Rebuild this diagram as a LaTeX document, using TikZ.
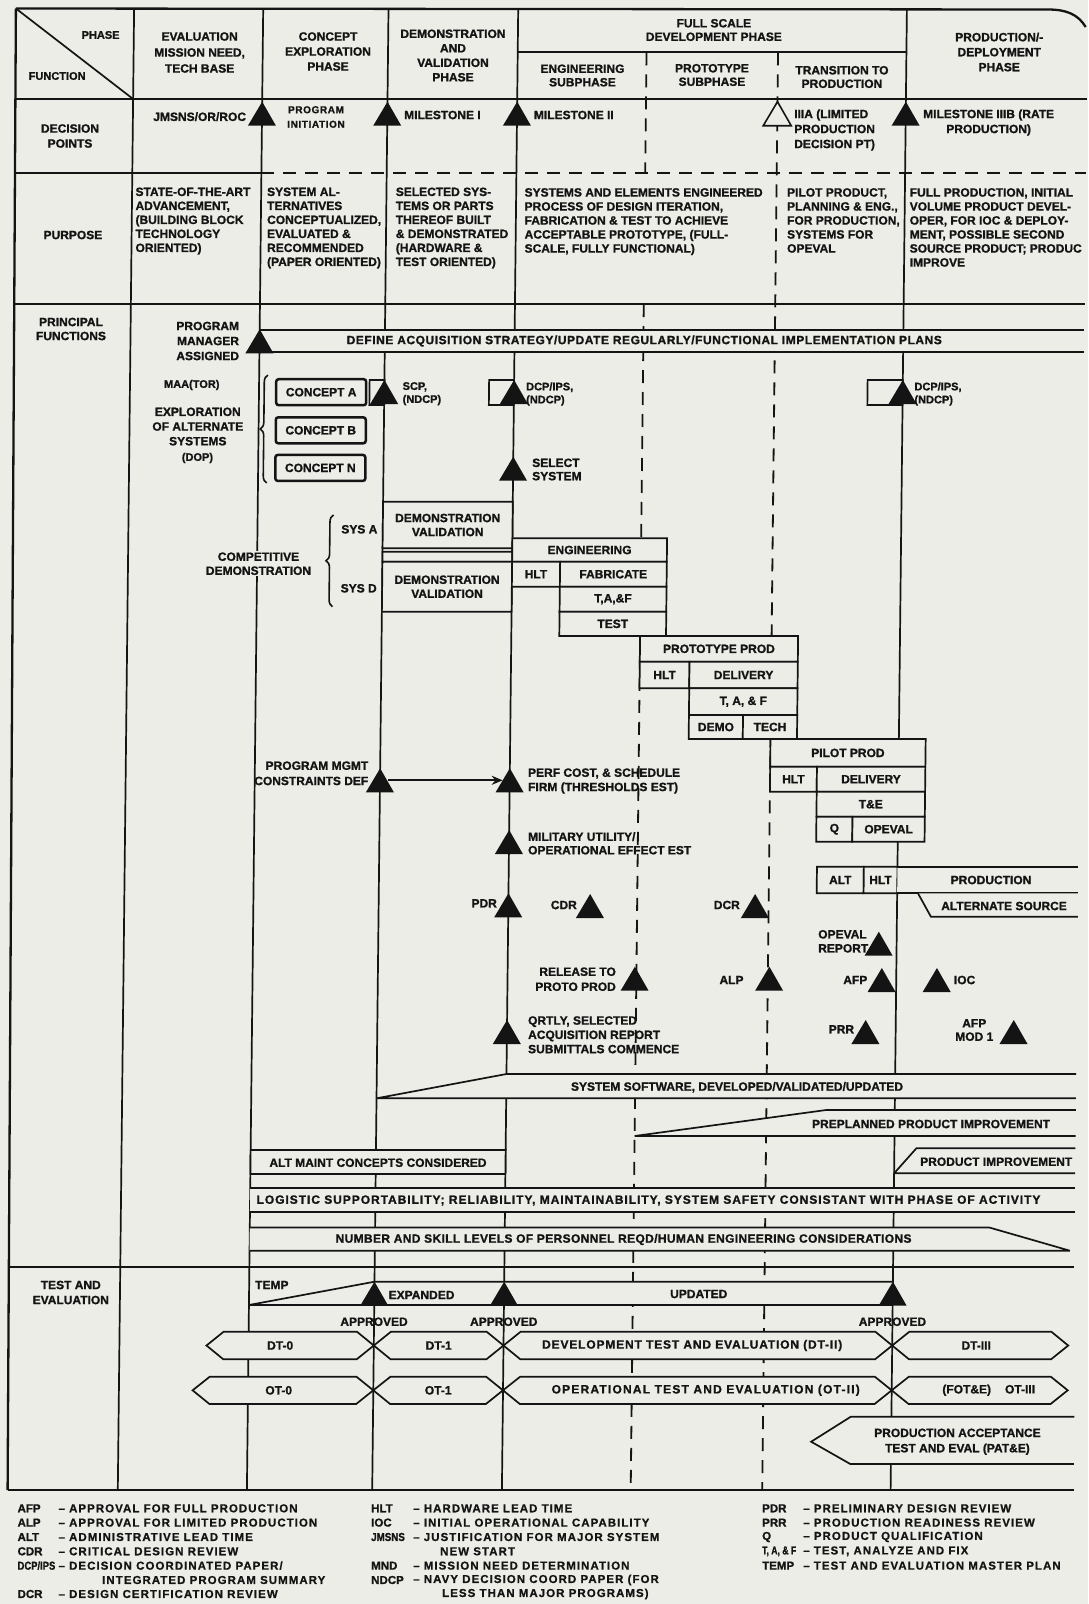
\documentclass[tikz,border=0pt]{standalone}
\usepackage{fontspec}
\setmainfont{Liberation Sans}[BoldFeatures={FakeBold=1.2}]
\newfontfamily\legfont{Liberation Sans}[LetterSpace=9.0,BoldFeatures={FakeBold=0.8}]
\usetikzlibrary{decorations.pathreplacing,arrows.meta}
\definecolor{ink}{HTML}{141414}
\definecolor{paper}{HTML}{ECEDE6}
\newcommand\ffs[2]{\fontsize{#1}{#2}\selectfont\bfseries}
\newcommand\lsp[1]{\addfontfeature{LetterSpace=#1}}
\def\XF{134.2}\def\XE{263.3}\def\XC{388.6}\def\XD{518.3}
\def\XPa{647.1}\def\XPb{778.6}\def\XR{907}\def\XRE{1088}
\newcommand\mtri[3]{\fill[ink] (#2,#3) -- ({#2-14},{#3+24}) -- ({#2+14},{#3+24}) -- cycle;
  \coordinate (#1) at (#2,{#3+12});}
\newcommand\otri[3]{\filldraw[fill=paper,draw=ink,line width=1.6pt] (#2,#3) -- ({#2-14},{#3+24}) -- ({#2+14},{#3+24}) -- cycle;
  \coordinate (#1) at (#2,{#3+12});}
\newcommand\bxp[4]{\path[bx] (#1,#2) -- (#3,#2) -- (#3,#4) -- (#1,#4) -- cycle;}
\newcommand\hexa[5]{\path[bx] (#1,#4) -- ({#1+17},#3) -- ({#2-17},#3) -- (#2,#4) -- ({#2-17},#5) -- ({#1+17},#5) -- cycle;}
\begin{document}
\begin{tikzpicture}[x=1pt,y=-1pt,
  every node/.style={inner sep=0pt,font=\ffs{12}{14},text=ink},
  ln/.style={line width=1.7pt,draw=ink},
  frame/.style={line width=2.3pt,draw=ink},
  dsh/.style={line width=1.8pt,draw=ink,dash pattern=on 13pt off 9pt},
  bx/.style={draw=ink,line width=1.7pt,fill=paper},
  cbox/.style={draw=ink,line width=2.5pt,fill=paper,rounded corners=2.5pt,minimum width=90pt,minimum height=26pt},
  brc/.style={line width=1.6pt,draw=ink,decorate,decoration={brace,amplitude=7pt}},
  lg/.style={font=\legfont\ffs{11.5}{14},anchor=west},
  lga/.style={font=\ffs{11.5}{14},anchor=west}]
\useasboundingbox (0,0) rectangle (1088,1604);
\fill[paper] (0,0) rectangle (1088,1604);
\begin{scope}[xslant=0.011]
% ---------- grid ----------
\draw[ln] (\XF,8.5) -- (\XF,1490);
\draw[ln] (\XE,8.5) -- (\XE,1490);
\draw[ln] (\XC,8.5) -- (\XC,1490);
\draw[ln] (\XD,8.5) -- (\XD,1490);
\draw[ln] (\XR,8.5) -- (\XR,1490);
\draw[dsh] (\XPa,52.3) -- (\XPa,172.7);
\draw[dsh] (\XPa,304) -- (\XPa,1490);
\draw[dsh] (\XPb,52.3) -- (\XPb,1490);
\draw[frame] (16,8.5) -- (1048,9.5) .. controls (1066,9.5) and (1078,14) .. (1086,27);
\draw[frame] (16,8.5) -- (24,1490);
\draw[ln] (16,8.5) -- (\XF,99);
\draw[frame] (16.5,99) -- (\XRE,99);
\draw[ln] (\XD,52.3) -- (\XR,52.3);
\draw[ln] (16.9,172.7) -- (\XE,172.7);
\draw[dsh] (\XE,172.7) -- (\XRE,172.7);
\draw[frame] (17.6,304) -- (\XRE,304);
\draw[frame] (22.8,1267) -- (\XRE,1267);
\draw[frame] (24,1490) -- (1090,1490);
% ---------- header ----------
\node[font=\ffs{11}{13}] (phase) at (101,35) {PHASE};
\node[font=\ffs{11}{13}] (function) at (58,76) {FUNCTION};
\node[align=center,font=\ffs{12}{16}] (hEval) at (200.2,52.5) {EVALUATION\\MISSION NEED,\\TECH BASE};
\node[align=center,font=\ffs{12}{15}] (hConc) at (328.6,51.5) {CONCEPT\\EXPLORATION\\PHASE};
\node[align=center,font=\ffs{12}{14.5}] (hDemo) at (453.6,55.5) {DEMONSTRATION\\AND\\VALIDATION\\PHASE};
\node[align=center,font=\ffs{12}{13.5}] (hFSD) at (714.2,30) {FULL SCALE\\DEVELOPMENT PHASE};
\node[align=center,font=\ffs{12}{13.5}] (hEng) at (583.3,75.5) {ENGINEERING\\SUBPHASE};
\node[align=center,font=\ffs{12}{13.5}] (hProt) at (712.8,75) {PROTOTYPE\\SUBPHASE};
\node[align=center,font=\ffs{12}{13.5}] (hTran) at (842.8,77) {TRANSITION TO\\PRODUCTION};
\node[align=center,font=\ffs{12}{15}] (hProd) at (999.8,52) {PRODUCTION/-\\DEPLOYMENT\\PHASE};
% ---------- decision points ----------
\mtri{tJ}{\XE}{101.7}
\node[anchor=east] (jmsns) at (247.5,116.7) {JMSNS/OR/ROC};
\node[align=center,font=\ffs{10}{14.5}\lsp{6}] (pinit) at (317.3,117) {PROGRAM\\INITIATION};
\mtri{tM1}{\XC}{101.7}
\node[anchor=west] (m1) at (405.3,115) {MILESTONE I};
\mtri{tM2}{\XD}{101.7}
\node[anchor=west] (m2) at (535,115) {MILESTONE II};
\otri{tM3a}{\XPb}{101.7}
\node[anchor=west,align=left,font=\ffs{12}{15}] (m3a) at (795.5,130) {IIIA (LIMITED\\PRODUCTION\\DECISION PT)};
\mtri{tM3b}{\XR}{101.7}
\node[align=center,font=\ffs{12}{15}] (m3b) at (990,122.5) {MILESTONE IIIB (RATE\\PRODUCTION)};
\node[align=center,font=\ffs{12}{15}] (dp) at (71.5,136) {DECISION\\POINTS};
% ---------- purpose ----------
\node (purp) at (75.5,235) {PURPOSE};
\node[anchor=north west,align=left] (pEval) at (137.4,187.4) {STATE-OF-THE-ART\\ADVANCEMENT,\\(BUILDING BLOCK\\TECHNOLOGY\\ORIENTED)};
\node[anchor=north west,align=left] (pConc) at (269,187.4) {SYSTEM AL-\\TERNATIVES\\CONCEPTUALIZED,\\EVALUATED \&\\RECOMMENDED\\(PAPER ORIENTED)};
\node[anchor=north west,align=left] (pDemo) at (397.7,187.4) {SELECTED SYS-\\TEMS OR PARTS\\THEREOF BUILT\\\& DEMONSTRATED\\(HARDWARE \&\\TEST ORIENTED)};
\node[anchor=north west,align=left] (pFSD) at (526.5,188) {SYSTEMS AND ELEMENTS ENGINEERED\\PROCESS OF DESIGN ITERATION,\\FABRICATION \& TEST TO ACHIEVE\\ACCEPTABLE PROTOTYPE, (FULL-\\SCALE, FULLY FUNCTIONAL)};
\node[anchor=north west,align=left] (pTran) at (789,188) {PILOT PRODUCT,\\PLANNING \& ENG.,\\FOR PRODUCTION,\\SYSTEMS FOR\\OPEVAL};
\node[anchor=north west,align=left] (pProd) at (911.6,188) {FULL PRODUCTION, INITIAL\\VOLUME PRODUCT DEVEL-\\OPER, FOR IOC \& DEPLOY-\\MENT, POSSIBLE SECOND\\SOURCE PRODUCT; PRODUC\\IMPROVE};
% ---------- principal functions ----------
\node[align=center] (pf) at (74.6,329) {PRINCIPAL\\FUNCTIONS};
\node[anchor=east,align=right,font=\ffs{12}{15}] (pma) at (243,341) {PROGRAM\\MANAGER\\ASSIGNED};
\fill[paper] (\XE,330) -- (\XRE,330) -- (\XRE,351.7) -- (\XE,351.7) -- cycle;
\draw[ln] (\XE,330) -- (\XRE,330) (\XE,351.7) -- (\XRE,351.7);
\mtri{tPM}{\XE}{329.3}
\node[font=\ffs{12}{14}\lsp{4.5}] (define) at (648,341) {DEFINE ACQUISITION STRATEGY/UPDATE REGULARLY/FUNCTIONAL IMPLEMENTATION PLANS};
\node[font=\ffs{11}{12}] (maa) at (196,385) {MAA(TOR)};
\node[align=center,font=\ffs{12}{14.7}] (explo) at (202.5,426.5) {EXPLORATION\\OF ALTERNATE\\SYSTEMS};
\node[font=\ffs{11}{12}] (dop) at (202.5,458) {(DOP)};
\draw[brc] (272,483) -- (272,375);
\node[cbox] (cA) at (325.5,392.2) {CONCEPT A};
\node[cbox] (cB) at (325.5,430.3) {CONCEPT B};
\node[cbox] (cN) at (325.5,467.9) {CONCEPT N};
\bxp{373.8}{380}{\XC}{405}
\mtri{tSCP}{\XC}{380}
\node[anchor=west,align=left,font=\ffs{11}{13}] (scp) at (406.8,393.7) {SCP,\\(NDCP)};
\bxp{493.3}{380}{\XD}{405}
\mtri{tDCP1}{\XD}{380}
\node[anchor=west,align=left,font=\ffs{11}{13}] (dcp1) at (530.3,394) {DCP/IPS,\\(NDCP)};
\bxp{871.8}{380}{\XR}{405}
\mtri{tDCP2}{\XR}{380}
\node[anchor=west,align=left,font=\ffs{11}{13}] (dcp2) at (918.6,394) {DCP/IPS,\\(NDCP)};
\mtri{tSel}{\XD}{456.7}
\node[anchor=west,align=left,font=\ffs{12}{13.3}] (sel) at (537.2,469.5) {SELECT\\SYSTEM};
% competitive demonstration
\draw[brc] (339.2,606.7) -- (339.2,515);
\node[anchor=west] (sysa) at (347,529.3) {SYS A};
\node[anchor=west] (sysd) at (347,588.3) {SYS D};
\node[align=center,fill=paper,inner sep=1pt] (compdem) at (264.7,563.7) {COMPETITIVE\\DEMONSTRATION};
\bxp{\XC}{501.7}{\XD}{548.3}
\node[align=center] (dvA) at (453.5,525) {DEMONSTRATION\\VALIDATION};
\bxp{\XC}{551.7}{\XD}{561.7}
\bxp{\XC}{561.7}{\XD}{611.7}
\node[align=center] (dvD) at (453.5,586.7) {DEMONSTRATION\\VALIDATION};
\bxp{\XD}{538.3}{673}{561.7}
\node (eng) at (595.6,550) {ENGINEERING};
\bxp{\XD}{561.7}{566.3}{586.7}
\node (hlt1) at (542.3,574.2) {HLT};
\bxp{566.3}{561.7}{673}{586.7}
\node (fab) at (619.6,574.2) {FABRICATE};
\bxp{566.3}{586.7}{673}{611.7}
\node (taf1) at (619.6,599.2) {T,A,\&F};
\bxp{566.3}{611.7}{673}{636}
\node (test) at (619.6,623.8) {TEST};
% prototype
\bxp{\XPa}{636}{805.1}{661.7}
\node (proto) at (726.1,648.8) {PROTOTYPE PROD};
\bxp{\XPa}{661.7}{696.8}{688.3}
\node (hlt2) at (672,675) {HLT};
\bxp{696.8}{661.7}{805.1}{688.3}
\node (deliv1) at (751,675) {DELIVERY};
\bxp{696.8}{688.3}{805.1}{715}
\node (taf2) at (751,701.7) {T, A, \& F};
\bxp{696.8}{715}{750.9}{739}
\node (demo) at (723.9,727) {DEMO};
\bxp{750.9}{715}{805.1}{739}
\node (tech) at (778,727) {TECH};
% pilot
\bxp{\XPb}{739}{933.8}{766.7}
\node (pilot) at (856.2,752.9) {PILOT PROD};
\bxp{\XPb}{766.7}{825.4}{791.7}
\node (hlt3) at (802,779.2) {HLT};
\bxp{825.4}{766.7}{933.8}{791.7}
\node (deliv2) at (879.6,779.2) {DELIVERY};
\bxp{825.4}{791.7}{933.8}{816.7}
\node (tande) at (879.6,804.2) {T\&E};
\bxp{825.4}{816.7}{861.5}{841.7}
\node (qual) at (843.5,829.2) {Q};
\bxp{861.5}{816.7}{933.8}{841.7}
\node (opeval) at (897.7,829.2) {OPEVAL};
% program management
\node[anchor=east,align=right,font=\ffs{12}{15.3}] (pmc) at (377,773.3) {PROGRAM MGMT\\CONSTRAINTS DEF};
\mtri{tPMC}{\XC}{768.3}
\mtri{tPerf}{\XD}{768.3}
\draw[line width=2.2pt,draw=ink,-{Stealth[length=11pt,width=9pt]},shorten <=8pt,shorten >=7pt] (tPMC) -- (tPerf);
\node[anchor=west,align=left,font=\ffs{12}{14.3}] (perf) at (536.5,781) {PERF COST, \& SCHEDULE\\FIRM (THRESHOLDS EST)};
\mtri{tMil}{\XD}{830}
\node[anchor=west,align=left,font=\ffs{12}{13.5}] (mil) at (537.2,843.3) {MILITARY UTILITY/\\OPERATIONAL EFFECT EST};
\mtri{tPDR}{\XD}{893.3}
\node[anchor=east] (pdr) at (507,903.3) {PDR};
\mtri{tCDR}{600}{894}
\node[anchor=east] (cdr) at (587,905) {CDR};
\mtri{tDCR}{765}{894}
\node[anchor=east] (dcr) at (750,905) {DCR};
% production
\bxp{826.5}{866.7}{873.4}{893.3}
\node (altb) at (850,880) {ALT};
\bxp{873.4}{866.7}{\XR}{893.3}
\node (hltp) at (890.2,880) {HLT};
\fill[paper] (\XR,866.7) -- (\XRE,866.7) -- (\XRE,893.3) -- (\XR,893.3) -- cycle;
\draw[ln] (\XR,866.7) -- (\XRE,866.7) (\XR,893.3) -- (\XRE,893.3);
\node (prodn) at (1000.7,880) {PRODUCTION};
\fill[paper] (927.8,893.3) -- (941,916.7) -- (\XRE,916.7) -- (\XRE,893.3) -- cycle;
\draw[ln] (927.8,893.3) -- (941,916.7) -- (\XRE,916.7);
\node (alts) at (1014,906) {ALTERNATE SOURCE};
\mtri{tOpr}{889.1}{931.7}
\node[anchor=west,align=left] (oprep) at (828.4,941.3) {OPEVAL\\REPORT};
\mtri{tRel}{645.5}{966.7}
\node[anchor=east,align=right,font=\ffs{12}{15}] (rel) at (626.8,979.2) {RELEASE TO\\PROTO PROD};
\mtri{tALP}{780}{966.7}
\node[anchor=east] (alp) at (754.5,980) {ALP};
\mtri{tAFP}{892.5}{968}
\node[anchor=east] (afp) at (878.3,980) {AFP};
\mtri{tIOC}{947.6}{968}
\node[anchor=west] (ioc) at (964.5,980) {IOC};
\mtri{tQR}{\XD}{1020}
\node[anchor=west,align=left,font=\ffs{12}{14.3}] (qrtly) at (539.3,1034.8) {QRTLY, SELECTED\\ACQUISITION REPORT\\SUBMITTALS COMMENCE};
\mtri{tPRR}{876.9}{1020}
\node[anchor=east] (prr) at (865.6,1029.3) {PRR};
\mtri{tAFP2}{1025}{1020}
\node[align=center,font=\ffs{12}{13.4}] (afpm) at (985.6,1030) {AFP\\MOD 1};
% bars
\fill[paper] (\XC,1098.3) -- (\XD,1074) -- (\XRE,1074) -- (\XRE,1098.3) -- cycle;
\draw[ln] (\XC,1098.3) -- (\XD,1074) -- (\XRE,1074) (\XC,1098.3) -- (\XRE,1098.3);
\node (sw) at (749,1087.3) {SYSTEM SOFTWARE, DEVELOPED/VALIDATED/UPDATED};
\fill[paper] (\XPa,1136) -- (838.4,1110) -- (\XRE,1110) -- (\XRE,1136) -- cycle;
\draw[ln] (\XPa,1136) -- (838.4,1110) -- (\XRE,1110) (\XPa,1136) -- (\XRE,1136);
\node (ppi) at (943.4,1124) {PREPLANNED PRODUCT IMPROVEMENT};
\bxp{\XE}{1150}{\XD}{1174}
\node (altm) at (390.8,1162.7) {ALT MAINT CONCEPTS CONSIDERED};
\fill[paper] (\XR,1173.3) -- (929,1148.3) -- (\XRE,1148.3) -- (\XRE,1173.3) -- cycle;
\draw[ln] (\XR,1173.3) -- (929,1148.3) -- (\XRE,1148.3) (\XR,1173.3) -- (\XRE,1173.3);
\node (pimp) at (1009,1161.7) {PRODUCT IMPROVEMENT};
\fill[paper] (\XE,1188) -- (\XRE,1188) -- (\XRE,1211.7) -- (\XE,1211.7) -- cycle;
\draw[ln] (\XE,1188) -- (\XRE,1188) (\XE,1211.7) -- (\XRE,1211.7);
\node[font=\ffs{12}{14}\lsp{8}] (logi) at (661.7,1200.5) {LOGISTIC SUPPORTABILITY; RELIABILITY, MAINTAINABILITY, SYSTEM SAFETY CONSISTANT WITH PHASE OF ACTIVITY};
\fill[paper] (\XE,1227.5) -- (1002.8,1227.5) -- (1083.7,1250.7) -- (\XE,1250.7) -- cycle;
\draw[ln] (\XE,1227.5) -- (1002.8,1227.5) -- (1083.7,1250.7) (\XE,1250.7) -- (1083.7,1250.7);
\node[font=\ffs{12}{14}\lsp{3}] (numb) at (637.2,1239.5) {NUMBER AND SKILL LEVELS OF PERSONNEL REQD/HUMAN ENGINEERING CONSIDERATIONS};
% ---------- test and evaluation ----------
\node[align=center,font=\ffs{12}{15}] (tev) at (85,1292.5) {TEST AND\\EVALUATION};
\node[anchor=west] (temp) at (269.1,1285) {TEMP};
\fill[paper] (\XE,1305) -- (\XC,1281.7) -- (\XR,1281.7) -- (\XR,1305) -- cycle;
\draw[ln] (\XE,1305) -- (\XC,1281.7) -- (\XR,1281.7) (\XE,1305) -- (\XR,1305);
\mtri{tT1}{\XC}{1281.7}
\mtri{tT2}{\XD}{1281.7}
\mtri{tT3}{\XR}{1281.7}
\node (expd) at (435.8,1295) {EXPANDED};
\node (updt) at (713,1294) {UPDATED};
\node (ap1) at (\XC,1321.7) {APPROVED};
\node (ap2) at (\XD,1321.7) {APPROVED};
\node (ap3) at (\XR,1321.7) {APPROVED};
\hexa{221.3}{\XC}{1331.7}{1345.5}{1359.3}
\hexa{\XC}{\XD}{1331.7}{1345.5}{1359.3}
\hexa{\XD}{\XR}{1331.7}{1345.5}{1359.3}
\hexa{\XR}{1083}{1331.7}{1345.5}{1359.3}
\node (dt0) at (295,1345.5) {DT-0};
\node (dt1) at (453.5,1345.5) {DT-1};
\node[font=\ffs{12}{14}\lsp{7}] (dt2) at (707,1345.5) {DEVELOPMENT TEST AND EVALUATION (DT-II)};
\node (dt3) at (991,1345.5) {DT-III};
\hexa{207.9}{\XC}{1376.7}{1390.3}{1404}
\hexa{\XC}{\XD}{1376.7}{1390.3}{1404}
\hexa{\XD}{\XR}{1376.7}{1390.3}{1404}
\hexa{\XR}{1083}{1376.7}{1390.3}{1404}
\node (ot0) at (294,1390.3) {OT-0};
\node (ot1) at (453.5,1390.3) {OT-1};
\node[font=\ffs{12}{14}\lsp{10}] (ot2) at (721,1390.3) {OPERATIONAL TEST AND EVALUATION (OT-II)};
\node (ot3) at (1004,1390.3) {(FOT\&E)\hspace{14pt}OT-III};
\fill[paper] (827,1441.7) -- (866.4,1416.7) -- (1090,1416.7) -- (1090,1464) -- (866.4,1464) -- cycle;
\draw[ln] (1090,1416.7) -- (866.4,1416.7) -- (827,1441.7) -- (866.4,1464) -- (1090,1464);
\node[align=center,font=\ffs{12}{15.3}] (pate) at (973.3,1441.7) {PRODUCTION ACCEPTANCE\\TEST AND EVAL (PAT\&E)};
\end{scope}
% ---------- legend ----------
\node[lga] (lAFP) at (17.4,1508.3) {AFP};
\node[lg] (lAFPt) at (58.3,1508.3) {– APPROVAL FOR FULL PRODUCTION};
\node[lga] (lALP) at (17.4,1522.6) {ALP};
\node[lg] (lALPt) at (58.3,1522.6) {– APPROVAL FOR LIMITED PRODUCTION};
\node[lga] (lALT) at (17.4,1537) {ALT};
\node[lg] (lALTt) at (58.3,1537) {– ADMINISTRATIVE LEAD TIME};
\node[lga] (lCDR) at (17.4,1551.3) {CDR};
\node[lg] (lCDRt) at (58.3,1551.3) {– CRITICAL DESIGN REVIEW};
\node[lga] (lDCP) at (17.4,1565.6) {\scalebox{0.82}[1]{DCP/IPS}};
\node[lg] (lDCPt) at (58.3,1565.6) {– DECISION COORDINATED PAPER/};
\node[lg] (lDCPt2) at (102,1580) {INTEGRATED PROGRAM SUMMARY};
\node[lga] (lDCR) at (17.4,1594) {DCR};
\node[lg] (lDCRt) at (58.3,1594) {– DESIGN CERTIFICATION REVIEW};
\node[lga] (lHLT) at (371,1508.3) {HLT};
\node[lg] (lHLTt) at (413,1508.3) {– HARDWARE LEAD TIME};
\node[lga] (lIOC) at (371,1522.6) {IOC};
\node[lg] (lIOCt) at (413,1522.6) {– INITIAL OPERATIONAL CAPABILITY};
\node[lga] (lJM) at (371,1537) {\scalebox{0.85}[1]{JMSNS}};
\node[lg] (lJMt) at (413,1537) {– JUSTIFICATION FOR MAJOR SYSTEM};
\node[lg] (lJMt2) at (440,1551.3) {NEW START};
\node[lga] (lMND) at (371,1565.6) {MND};
\node[lg] (lMNDt) at (413,1565.6) {– MISSION NEED DETERMINATION};
\node[lga] (lNDCP) at (371,1580) {NDCP};
\node[lg] (lNDCPt) at (413,1580) {– NAVY DECISION COORD PAPER (FOR};
\node[lg] (lNDCPt2) at (442,1594) {LESS THAN MAJOR PROGRAMS)};
\node[lga] (lPDR) at (762,1508.3) {PDR};
\node[lg] (lPDRt) at (803,1508.3) {– PRELIMINARY DESIGN REVIEW};
\node[lga] (lPRR) at (762,1522.6) {PRR};
\node[lg] (lPRRt) at (803,1522.6) {– PRODUCTION READINESS REVIEW};
\node[lga] (lQ) at (762,1537) {Q};
\node[lg] (lQt) at (803,1537) {– PRODUCT QUALIFICATION};
\node[lga] (lTAF) at (762,1551.3) {\scalebox{0.75}[1]{T, A, \& F}};
\node[lg] (lTAFt) at (803,1551.3) {– TEST, ANALYZE AND FIX};
\node[lga] (lTEMP) at (762,1565.6) {TEMP};
\node[lg] (lTEMPt) at (803,1565.6) {– TEST AND EVALUATION MASTER PLAN};
\end{tikzpicture}
\end{document}
